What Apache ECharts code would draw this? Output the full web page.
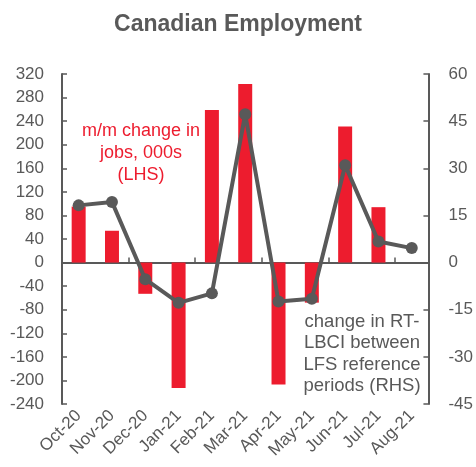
<!DOCTYPE html>
<html>
<head>
<meta charset="UTF-8">
<title>Canadian Employment</title>
<script type="text/javascript" src="https://cdn.jsdelivr.net/npm/echarts@6/dist/echarts.min.js"></script>
<style>
html,body{margin:0;padding:0;background:#fff;}
</style>
</head>
<body>
<div id="main" style="width:476px;height:467px;"></div>

<script type="text/javascript">
// months
var months = ['Oct-20','Nov-20','Dec-20','Jan-21','Feb-21','Mar-21','Apr-21','May-21','Jun-21','Jul-21','Aug-21'];
// m/m change in jobs, 000s (LHS)
var jobs = [95, 54, -53, -213, 259, 303, -207, -68, 231, 94, null];
// change in RT-LBCI between LFS reference periods (RHS)
var lbci = [18.2, 19.3, -5.3, -12.8, -9.8, 47.2, -12.4, -11.5, 31, 6.7, 4.6];

var grey = '#595959';
var red = '#ED1C2E';
var font = 'Liberation Sans, Arial, sans-serif';

var mychart = echarts.init(document.getElementById('main'));

var option = {
    animation: false,
    title: {
        text: 'Canadian Employment',
        left: 'center',
        top: 8,
        textStyle: {color: grey, fontSize: 23, fontWeight: 'bold', fontFamily: font}
    },
    grid: {left: 62, right: 42, top: 74, bottom: 63},
    xAxis: [{
        type: 'category',
        data: months,
        axisLine: {onZero: true, onZeroAxisIndex: 0, lineStyle: {color: grey, width: 2}},
        axisTick: {show: true, inside: true, length: 5, lineStyle: {color: grey, width: 1.5}},
        axisLabel: {show: false}
    }, {
        type: 'category',
        data: months,
        position: 'bottom',
        axisLine: {show: false},
        axisTick: {show: false},
        axisLabel: {rotate: 45, color: grey, fontSize: 17, fontFamily: font, margin: 9, interval: 0}
    }],
    yAxis: [{
        type: 'value',
        min: -240, max: 320, interval: 40,
        axisLine: {show: true, lineStyle: {color: grey, width: 2}},
        axisTick: {show: true, inside: true, length: 5, lineStyle: {color: grey, width: 1.5}},
        axisLabel: {color: grey, fontSize: 17, fontFamily: font, margin: 18},
        splitLine: {show: false}
    }, {
        type: 'value',
        min: -45, max: 60, interval: 15,
        axisLine: {show: true, lineStyle: {color: grey, width: 2}},
        axisTick: {show: true, inside: true, length: 5, lineStyle: {color: grey, width: 1.5}},
        axisLabel: {color: grey, fontSize: 17, fontFamily: font, margin: 20},
        splitLine: {show: false}
    }],
    series: [{
        name: 'm/m change in jobs, 000s (LHS)',
        type: 'bar',
        xAxisIndex: 0,
        yAxisIndex: 0,
        barWidth: '42%',
        itemStyle: {color: red},
        data: jobs
    }, {
        name: 'change in RT-LBCI between LFS reference periods (RHS)',
        type: 'line',
        xAxisIndex: 0,
        yAxisIndex: 1,
        symbol: 'circle',
        symbolSize: 12,
        lineStyle: {color: grey, width: 4},
        itemStyle: {color: grey},
        data: lbci
    }],
    graphic: [{
        type: 'text',
        x: 141, y: 120, z: 100,
        style: {
            text: 'm/m change in\njobs, 000s\n(LHS)',
            fill: red, font: '18px ' + font, align: 'center', verticalAlign: 'top', lineHeight: 22
        }
    }, {
        type: 'text',
        x: 362, y: 311, z: 100,
        style: {
            text: 'change in RT-\nLBCI between\nLFS reference\nperiods (RHS)',
            fill: grey, font: '18.5px ' + font, align: 'center', verticalAlign: 'top', lineHeight: 21.5
        }
    }]
};

mychart.setOption(option);
</script>
</body>
</html>
